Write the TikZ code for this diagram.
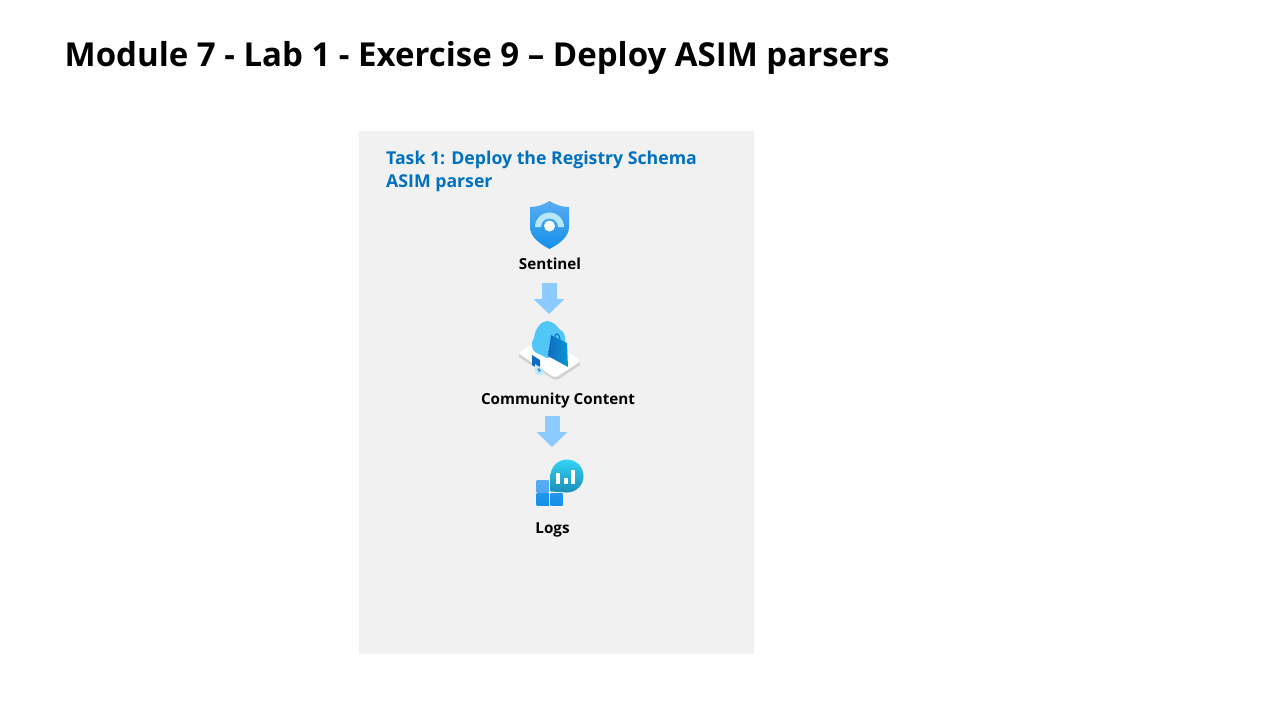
\documentclass[tikz,border=0pt]{standalone}
\usepackage{fontspec}
\setmainfont{Open Sans}
\usetikzlibrary{arrows.meta,positioning}
\definecolor{panelgray}{HTML}{F1F1F1}
\definecolor{taskblue}{HTML}{0070C0}
\definecolor{flowblue}{HTML}{8CCBFF}
\definecolor{azuretop}{HTML}{58ACF2}
\definecolor{azurelow}{HTML}{1490EA}
\definecolor{shieldarc}{HTML}{B5E8FC}
\definecolor{cloudblue}{HTML}{50C7F5}
\definecolor{bagblue}{HTML}{0F6CC0}
\definecolor{logstop}{HTML}{32D4F5}
\definecolor{logslow}{HTML}{1A8DB8}
\tikzset{
  title/.style={anchor=base west,inner sep=0pt,font=\fontsize{33}{38}\selectfont\bfseries},
  tasktitle/.style={anchor=north west,inner sep=0pt,align=left,text=taskblue,font=\fontsize{17.7}{23}\selectfont\bfseries},
  label/.style={inner sep=0pt,font=\fontsize{15.2}{18}\selectfont\bfseries},
  flow/.style={draw=flowblue,line width=15pt,-{Triangle[width=30pt,length=15pt]},shorten >=0pt}
}
\begin{document}
\begin{tikzpicture}[x=1pt,y=-1pt]
    \useasboundingbox (0,0) rectangle (1280,720);
    \fill[white] (0,0) rectangle (1280,720);
    \node[title] (title) at (64.5,66) {Module 7 - Lab 1 - Exercise 9 – Deploy ASIM parsers};

    \fill[panelgray] (359,131) rectangle (754,654);
    \node[tasktitle] (task) at (386,151) {Task 1: Deploy the Registry Schema\\ASIM parser};

    \node[label] (sentinel) at (550,264) {Sentinel};
    \node[label] (community) at (558,400.5) {Community Content};
    \node[label] (logs) at (552.5,530) {Logs};

    \coordinate (flow1a) at (549,283);
    \coordinate (flow1b) at (549,314);
    \coordinate (flow2a) at (552,416);
    \coordinate (flow2b) at (552,447);
    \draw[flow] (flow1a) -- (flow1b);
    \draw[flow] (flow2a) -- (flow2b);

    % shield
    \shade[top color=azuretop,bottom color=azurelow]
      (549.5,201) .. controls (543,205) and (537,207) .. (530,207)
      -- (530,227) .. controls (530,237) and (540,244) .. (549.5,249)
      .. controls (559,244) and (569,237) .. (569,227)
      -- (569,207) .. controls (562,207) and (556,205) .. (549.5,201) -- cycle;
    \fill[shieldarc] (535,227) arc (180:0:14.5 and -14.5)
      -- (558,227) arc (0:180:8.5 and -8.5) -- cycle;
    \fill[white] (549.5,226) circle (5.5);

    % cloud and bag
    \fill[gray!35] (519,354) -- (519,357) -- (553,379) .. controls (555,380) and (557,380) .. (559,379)
      -- (580,365) -- (580,361) -- cycle;
    \fill[white] (521,351) -- (541,339) .. controls (543,338) and (545,338) .. (547,339)
      -- (578,359) .. controls (580,361) and (580,362) .. (578,363)
      -- (558,376) .. controls (556,377) and (554,377) .. (552,376)
      -- (521,355) .. controls (519,354) and (519,352) .. (521,351) -- cycle;
    \fill[cloudblue] (547,358) -- (535,352) .. controls (531,349) and (531,342) .. (534,338)
      .. controls (535,329) and (541,321) .. (547,321)
      .. controls (553,322) and (557,325) .. (559,329)
      .. controls (564,331) and (566,336) .. (565,342) -- (560,355) -- cycle;
    \draw[bagblue,line width=1pt] (555,338) .. controls (555,331) and (560,333) .. (560,341);
    \shade[left color=bagblue,right color=bagblue!70!cyan]
      (551,335) -- (567,343) -- (568,367) -- (548,356) -- cycle;
    \fill[bagblue] (532,355) -- (540,360) -- (540,369) -- (532,365) -- cycle;
    \fill[cyan!25] (535,364) -- (543,369) -- (543,375) -- (537,375) -- (535,373) -- cycle;
    \draw[bagblue,line width=.6pt] (537.5,369) -- (541,371) (539,368) -- (539,372);

    % logs
    \shade[top color=azuretop,bottom color=azuretop!85!azurelow] (536.5,480) rectangle (548.5,492);
    \shade[top color=azurelow!80!azuretop,bottom color=azurelow] (536.5,493.5) rectangle (549,505.5);
    \shade[top color=azurelow!80!azuretop,bottom color=azurelow] (550.5,493.5) rectangle (562.5,505.5);
    \shade[top color=logstop,bottom color=logslow]
      (550.5,491.5) -- (550.5,476) arc (180:90:16.5 and -16.5) arc (90:-90:16.5 and -16.5) -- cycle;
    \fill[white] (556,473) rectangle (560,484);
    \fill[white] (563.5,478) rectangle (567.5,484);
    \fill[white] (571,470) rectangle (575,484);
  \end{tikzpicture}
\end{document}
